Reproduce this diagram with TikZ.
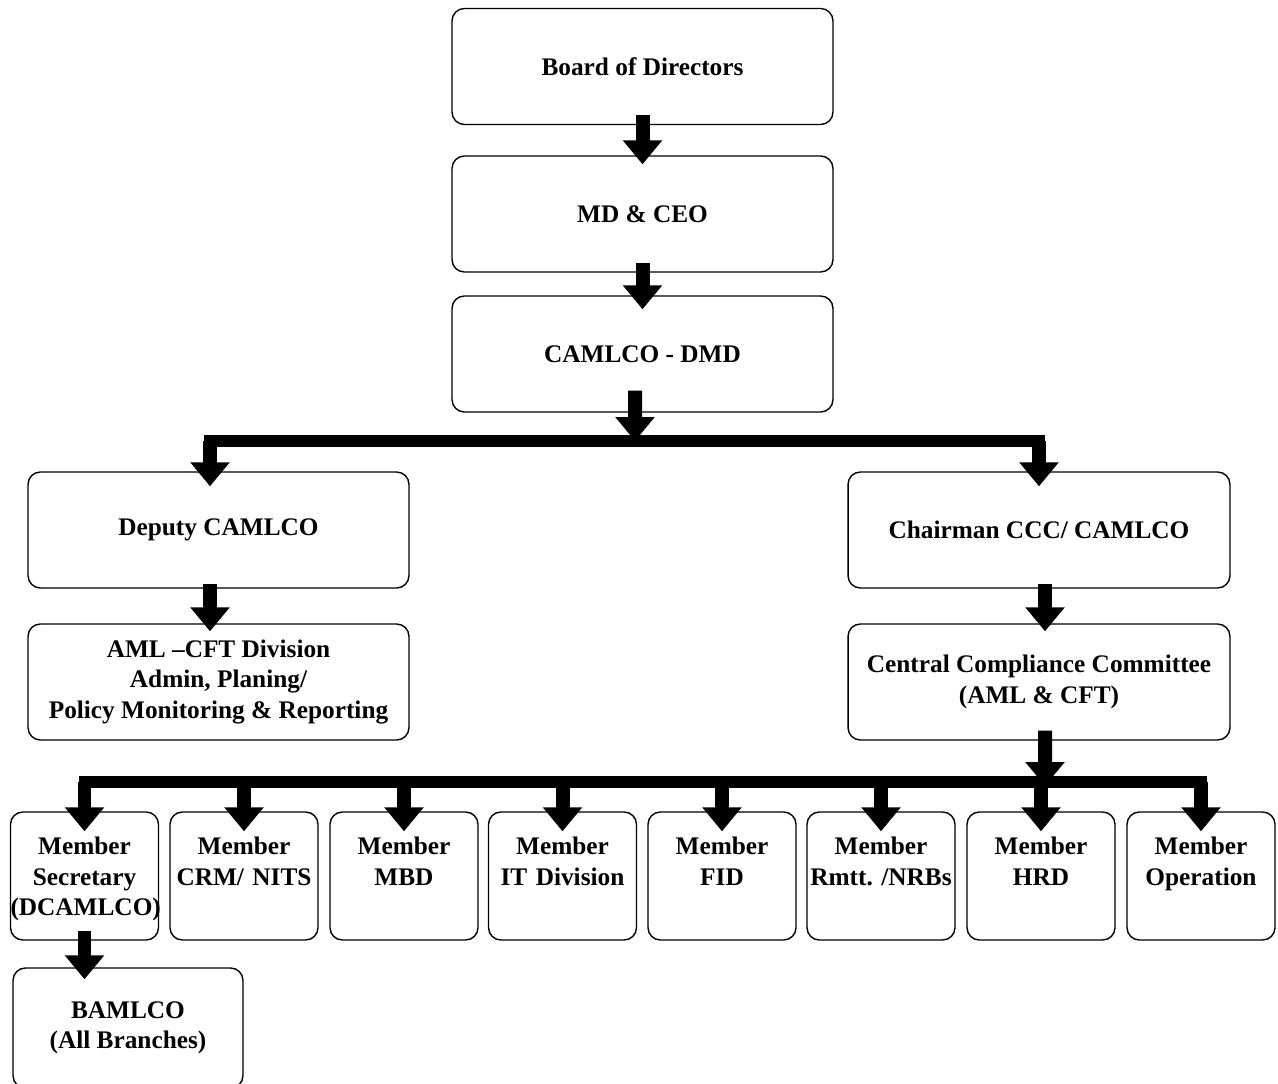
\documentclass[tikz,border=0pt]{standalone}
\usepackage{fontspec}
\setmainfont{Liberation Serif}
\usetikzlibrary{arrows.meta,calc}

\tikzset{
  box/.style={draw, line width=0.8pt, rounded corners=7pt,
    minimum width=7.62cm, minimum height=2.32cm, align=center,
    font=\fontsize{14.4}{17.2}\selectfont\bfseries},
  member/.style={box, minimum width=2.96cm, text width=2.96cm,
    inner sep=0pt, minimum height=2.56cm},
  fat/.style={line width=0.28cm, -{Triangle[width=0.76cm,length=0.48cm]}},
  bus/.style={line width=0.24cm, line cap=rect}
}

\begin{document}
\begin{tikzpicture}[x=0.02cm, y=-0.02cm]
\useasboundingbox (0,0) rectangle (1278,1084);

\node[box] (board) at (642.5,66.5) {Board of Directors};
\node[box] (mdceo) at (642.5,214) {MD \& CEO};
\node[box] (camlco) at (642.5,354) {CAMLCO - DMD};
\node[box] (deputy) at (218.5,530) {Deputy CAMLCO};
\node[box, minimum width=7.64cm] (chair) at (1039,530) {Chairman CCC/ CAMLCO};
\node[box] (amlcft) at (218.5,682) {AML –CFT Division\\Admin, Planing/\\Policy Monitoring \& Reporting};
\node[box, minimum width=7.64cm] (ccc) at (1039,682) {Central Compliance Committee\\(AML \& CFT)};

% members of the committee
\foreach \i/\x/\t in {1/84.5/{Secretary\\(DCAMLCO)}, 2/244/{CRM/ NITS\\~},
    3/404/{MBD\\~}, 4/562.5/{IT Division\\~}, 5/722/{FID\\~},
    6/881/{Rmtt.\ /NRBs\\~}, 7/1041/{HRD\\~}, 8/1201/{Operation\\~}}
  \node[member] (m\i) at (\x,876) {\rule{0pt}{15.5pt}Member\\\t\strut};

\node[box, minimum width=4.6cm, minimum height=2.4cm] (bamlco) at (128,1028) {BAMLCO\\(All Branches)};

\coordinate (bus1) at (635,441);
\coordinate (bus2) at (1045,782);

\draw[fat] ([yshift=0.2cm]board.south) -- ([yshift=-0.18cm]mdceo.north);
\draw[fat] ([yshift=0.2cm]mdceo.south) -- ([yshift=-0.28cm]camlco.north);
\draw[fat] ([xshift=-0.15cm,yshift=0.44cm]camlco.south) -- (bus1);

\draw[bus] ([xshift=-0.17cm]deputy.north |- bus1) -- (chair.north |- bus1);
\draw[fat] ([xshift=-0.17cm]deputy.north |- bus1) -- ([xshift=-0.17cm,yshift=-0.3cm]deputy.north);
\draw[fat] (chair.north |- bus1) -- ([yshift=-0.3cm]chair.north);

\draw[fat] ([xshift=-0.17cm,yshift=0.1cm]deputy.south) -- ([xshift=-0.17cm,yshift=-0.16cm]amlcft.north);
\draw[fat] ([xshift=0.12cm,yshift=0.1cm]chair.south) -- ([xshift=0.12cm,yshift=-0.16cm]ccc.north);
\draw[fat] ([xshift=0.12cm,yshift=0.2cm]ccc.south) -- ([yshift=-0.08cm]bus2);

\draw[bus] (m1.north |- bus2) -- (m8.north |- bus2);
\foreach \i in {1,...,8}
  \draw[fat] (m\i.north |- bus2) -- ([yshift=-0.4cm]m\i.north);

\draw[fat] ([yshift=0.2cm]m1.south) -- ([yshift=-0.24cm]m1.south |- bamlco.north);
\end{tikzpicture}
\end{document}
